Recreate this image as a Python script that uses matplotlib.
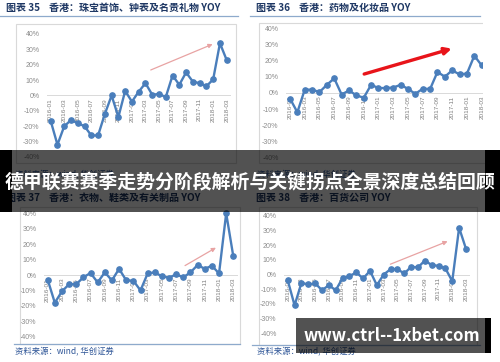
import matplotlib
matplotlib.use("Agg")
import matplotlib.pyplot as plt
from matplotlib.patches import Rectangle
from matplotlib.lines import Line2D
from matplotlib.ticker import FixedLocator, FuncFormatter

plt.rcParams['font.family'] = ['Noto Sans CJK SC', 'DejaVu Sans']

W, H = 500, 362

# === 數據 (2016-01 ~ 2018-03, 月度 YOY %) ===
months = ["2016-01", "2016-02", "2016-03", "2016-04", "2016-05", "2016-06", "2016-07",
          "2016-08", "2016-09", "2016-10", "2016-11", "2016-12", "2017-01", "2017-02",
          "2017-03", "2017-04", "2017-05", "2017-06", "2017-07", "2017-08", "2017-09",
          "2017-10", "2017-11", "2017-12", "2018-01", "2018-02", "2018-03"]

jewelry = [-16.5, -32, -20, -16, -18, -20, -26, -26, -12, 0, -14, 3, -4, 2.5,
           8, 0.5, 1, -1, 13, 7, 15, 9, 8, 6, 10.5, 34, 23]
medicine = [-3.5, -12, 2, 2, 0.5, 5, 9, -1, 1.5, -1.5, -3, 5, 3, 3,
            3.3, 5, 2.5, -0.6, 2.6, 2.4, 13, 10, 14, 11.4, 12, 23, 17]
clothing = [-3, -18, -10.6, -6, -6, -1.5, 1.3, -4.8, 1.7, -3.5, 4, -3.5, -3.7, -10,
            1, 1.7, -0.9, -1.7, 0.4, -1.5, 1.7, 6.5, 4, 6, 1, 40, 12]
dept_store = [-3.9, -21, -5.7, -6.8, -6, -10.7, -7.3, -10.7, -2.5, -1.1, 1.4, -2.7, 2.5, -7.3,
              0, 3.6, 3.6, 0.7, 5.2, 4.8, 9.5, 6.4, 5.9, 4.1, -4.5, 31.8, 17.5]

titles = ["图表 35    香港：珠宝首饰、钟表及名贵礼物 YOY",
          "图表 36    香港：药物及化妆品 YOY",
          "图表 37    香港：衣物、鞋类及有关制品 YOY",
          "图表 38    香港：百货公司 YOY"]
source = "资料来源：wind, 华创证券"
banner = "德甲联赛赛季走势分阶段解析与关键拐点全景深度总结回顾"
watermark = "www.ctrl--1xbet.com"
yticks = [-40, -30, -20, -10, 0, 10, 20, 30, 40]

LINE = '#4a7ebb'
TITLE_C = '#1f3864'
RULE_C = '#8eaacc'
FRAME_C = '#d9d9d9'
SRC_C = '#2e5597'

fig = plt.figure(figsize=(W / 100, H / 100), dpi=100)
fig.patch.set_facecolor('white')


def fx(x):
    return x / W


def fy(y):
    return 1 - y / H


def rect(x0, y0, x1, y1, **kw):
    r = Rectangle((fx(x0), fy(y1)), (x1 - x0) / W, (y1 - y0) / H,
                  transform=fig.transFigure, **kw)
    fig.add_artist(r)


def hline(x0, x1, y, **kw):
    fig.add_artist(Line2D([fx(x0), fx(x1)], [fy(y), fy(y)], transform=fig.transFigure, **kw))


def panel(box, ax_px, values, title, title_xy, rule, src_xy, arrow, arrow_style):
    # 外框
    rect(*box, facecolor='none', edgecolor=FRAME_C, lw=0.8, zorder=1)
    x0, x1, yt, yb = ax_px
    ax = fig.add_axes([fx(x0), fy(yb), (x1 - x0) / W, (yb - yt) / H])
    ax.patch.set_alpha(0)
    ax.plot(range(len(values)), values, color=LINE, lw=1.7, marker='o', ms=3.8,
            clip_on=False, zorder=3)
    ax.set_xlim(-0.5, len(values) - 0.5)
    ax.set_ylim(-40, 40)
    for s in ['top', 'right', 'left']:
        ax.spines[s].set_visible(False)
    ax.spines['bottom'].set_position(('data', 0))
    ax.spines['bottom'].set_color(FRAME_C)
    ax.spines['bottom'].set_linewidth(0.7)
    ax.xaxis.set_major_locator(FixedLocator(range(0, len(months), 2)))
    ax.set_xticklabels(months[::2], rotation=90, fontsize=4.6, color='#7f7f7f',
                       family=['Liberation Sans', 'DejaVu Sans'])
    ax.set_yticks(yticks)
    ax.yaxis.set_major_formatter(FuncFormatter(lambda v, p: f"{int(v)}%"))
    ax.tick_params(axis='x', length=0, pad=2)
    ax.tick_params(axis='y', length=0, pad=5.5, labelsize=5, labelcolor='#8c8c8c')
    for lab in ax.get_yticklabels():
        lab.set_family(['Liberation Sans', 'DejaVu Sans'])
    # 趨勢箭頭
    ax.annotate("", xy=arrow[1], xytext=arrow[0], arrowprops=arrow_style,
                annotation_clip=False, zorder=4)
    # 標題與來源
    fig.text(fx(title_xy[0]), fy(title_xy[1]), title, fontsize=7.2, weight='bold',
             color=TITLE_C, va='center', ha='left')
    hline(rule[0], rule[1], rule[2], color=RULE_C, lw=0.9)
    fig.text(fx(src_xy[0]), fy(src_xy[1]), source, fontsize=6, style='italic',
             color=SRC_C, va='center', ha='left')
    return ax


pink = dict(arrowstyle='-|>', color='#e8a3a3', lw=0.9, mutation_scale=6)
red = dict(arrowstyle='-|>', color='#e8141a', lw=2.4, mutation_scale=10)

panel((16, 24, 236, 163), (47.3, 230.1, 34, 157), jewelry, titles[0], (6, 8),
      (0, 238, 15.5), (15, 175), ((14.4, 15.9), (24.3, 34.1)), pink)
panel((259, 23, 500, 163), (286.3, 485.4, 28.3, 157.5), medicine, titles[1], (256, 8),
      (250, 480, 15.5), (257, 175), ((9.7, 11.2), (22.3, 27.9)), red)
panel((20, 207, 240, 344), (44.1, 236.9, 213.3, 336.7), clothing, titles[2], (6, 198),
      (14, 240, 344), (15, 352), ((18.9, 5.2), (23.9, 18.6)), pink)
panel((259, 207, 477, 345), (284.3, 469.4, 215.7, 333.3), dept_store, titles[3], (256, 198),
      (252, 480, 345), (257, 352), ((14.6, 6.3), (23.7, 23.3)), pink)

# 右上圖被裁切
rect(483, 17, 500, 150, facecolor='white', edgecolor='none', zorder=20)

# 橫幅
rect(0, 150, 500, 212, facecolor='black', alpha=0.68, edgecolor='none', zorder=30)
rect(0, 150, 12, 212, facecolor='black', edgecolor='none', zorder=31)
rect(485, 150, 500, 212, facecolor='black', edgecolor='none', zorder=31)
fig.text(0.5, fy(181.5), banner, fontsize=13.6, weight='bold', color='white',
         ha='center', va='center', zorder=32)

rect(296, 318, 485, 353, facecolor='black', alpha=0.68, edgecolor='none', zorder=30)
rect(485, 318, 491, 353, facecolor='black', edgecolor='none', zorder=31)
fig.text(fx(392), fy(336), watermark, fontsize=12, weight='bold', color='white',
         ha='center', va='center', zorder=32)

fig.savefig("out.png", dpi=100)
